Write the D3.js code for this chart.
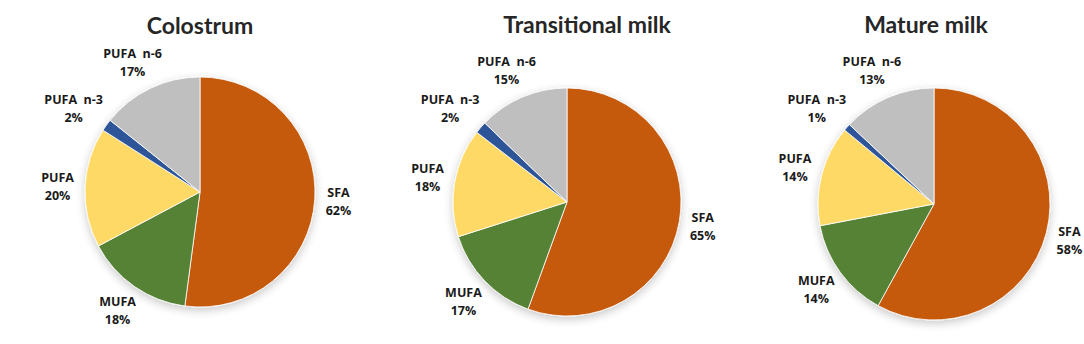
<!DOCTYPE html>
<html>
<head>
<meta charset="utf-8">
<script src="https://cdn.jsdelivr.net/npm/d3@7"></script>
<style>
  html, body { margin: 0; padding: 0; background: #fff; }
  svg { display: block; }
  .title { font-family: Lato, sans-serif; font-size: 23px; font-weight: 700; fill: #262626; }
  .lbl { font-family: "Open Sans", sans-serif; font-size: 12.5px; font-weight: 700; fill: #1a1a1a; white-space: pre; }
</style>
</head>
<body>
<svg id="chart" width="1084" height="344"></svg>
<script>
// data
const panels = ["Colostrum", "Transitional milk", "Mature milk"];
const categories = ["SFA", "MUFA", "PUFA", "PUFA  n-3", "PUFA  n-6"];
const colostrum = [62, 18, 20, 2, 17];
const transitional = [65, 17, 18, 2, 15];
const mature = [58, 14, 14, 1, 13];
const colors = ["#C55A11", "#548235", "#FFD966", "#2F5597", "#BFBFBF"];

// layout of the three pies
const layout = [
  { cx: 200, cy: 192, r: 115, tx: 200, ty: 34 },
  { cx: 567, cy: 202, r: 114, tx: 587, ty: 33 },
  { cx: 934, cy: 204, r: 116, tx: 926, ty: 33 }
];
const series = [colostrum, transitional, mature];

const svg = d3.select("#chart");

// soft shadow round each pie
const defs = svg.append("defs");
const f = defs.append("filter").attr("id", "shade")
  .attr("x", "-20%").attr("y", "-20%").attr("width", "140%").attr("height", "145%");
f.append("feGaussianBlur").attr("in", "SourceAlpha").attr("stdDeviation", 5).attr("result", "b");
f.append("feOffset").attr("in", "b").attr("dy", 3).attr("result", "o");
f.append("feComponentTransfer").attr("in", "o").attr("result", "s")
  .append("feFuncA").attr("type", "linear").attr("slope", 0.22);
const m = f.append("feMerge");
m.append("feMergeNode").attr("in", "s");
m.append("feMergeNode").attr("in", "SourceGraphic");

const pie = d3.pie().sort(null).value(d => d);

series.forEach((vals, i) => {
  const L = layout[i];
  const g = svg.append("g").attr("transform", `translate(${L.cx},${L.cy})`);
  const arc = d3.arc().innerRadius(0).outerRadius(L.r);
  const arcs = pie(vals);

  g.append("g").attr("filter", "url(#shade)")
    .selectAll("path").data(arcs).join("path")
    .attr("d", arc)
    .attr("fill", (d, j) => colors[j])
    .attr("stroke", "#fff").attr("stroke-width", 0.8);

  // outside-end labels: box pushed out along the mid angle
  const lab = g.selectAll("g.l").data(arcs).join("g").attr("class", "l");
  lab.append("text").attr("class", "lbl").attr("text-anchor", "middle")
    .attr("y", -4.5).text((d, j) => categories[j]);
  lab.append("text").attr("class", "lbl").attr("text-anchor", "middle")
    .attr("y", 13.5).text(d => d.data + "%");
  lab.attr("transform", function (d) {
    const a = (d.startAngle + d.endAngle) / 2;
    const s = Math.sin(a), c = Math.cos(a);
    const w = this.getBBox().width;
    const rr = L.r + 11;
    const x = rr * s + (w / 2) * s;
    const y = -rr * c - 18 * c;
    return `translate(${x},${y})`;
  });

  svg.append("text").attr("class", "title").attr("text-anchor", "middle")
    .attr("x", L.tx).attr("y", L.ty).text(panels[i]);
});
</script>
</body>
</html>
